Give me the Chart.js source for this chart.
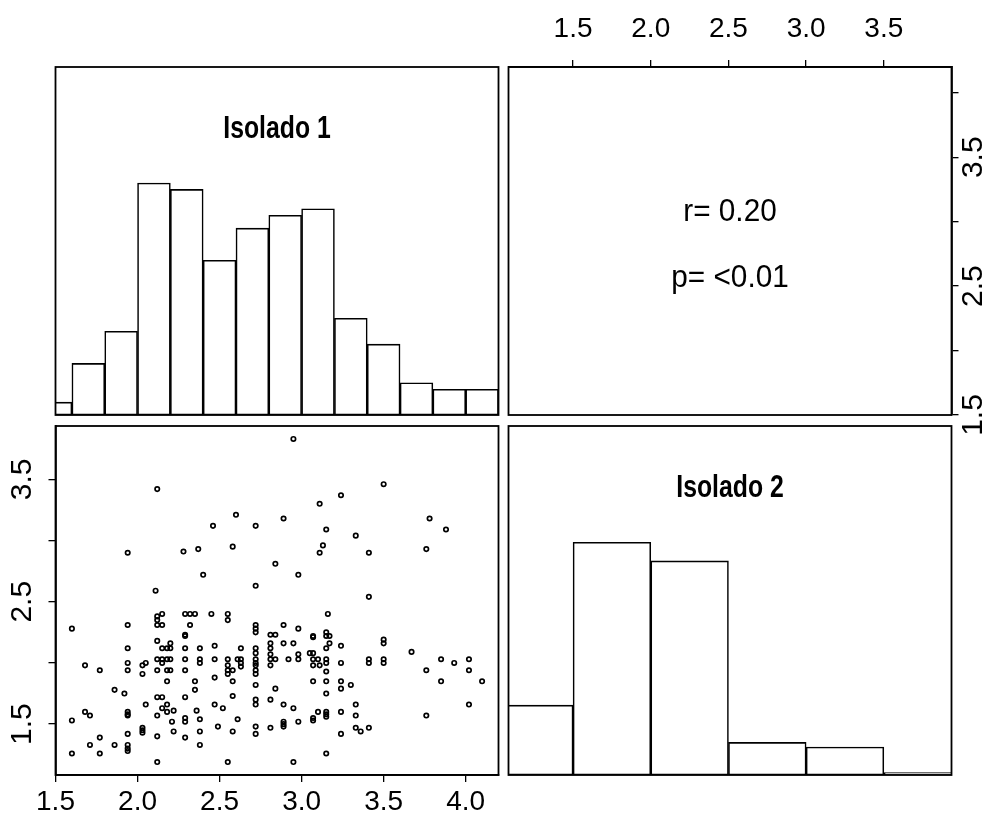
<!DOCTYPE html>
<html lang="pt">
<head>
<meta charset="utf-8">
<title>Isolado 1 x Isolado 2</title>
<script src="https://cdn.jsdelivr.net/npm/chart.js@4.4.1/dist/chart.umd.min.js"></script>
<style>
html, body { margin: 0; padding: 0; background: #fff; }
#quadro { position: relative; width: 986px; height: 814px; }
#quadro canvas { position: absolute; left: 0; top: 0; }
</style>
</head>
<body>
<div id="quadro">
<canvas id="hist1" width="986" height="814"></canvas>
<canvas id="texto" width="986" height="814"></canvas>
<canvas id="disp" width="986" height="814"></canvas>
<canvas id="hist2" width="986" height="814"></canvas>
</div>
<script>
const pontos = [
    [2.12,3.42],[1.94,2.90],[2.28,2.91],[2.37,2.93],[2.46,3.12],[2.60,3.21],[2.58,2.95],[2.72,3.12],[2.84,2.81],[2.40,2.72],[2.11,2.59],[2.72,2.63],
    [2.95,3.83],[3.50,3.46],[3.24,3.37],[3.11,3.30],[2.89,3.18],[3.78,3.18],[3.15,3.09],[3.88,3.09],[3.33,3.04],[3.13,2.96],[3.11,2.90],[3.41,2.90],
    [3.76,2.93],[2.98,2.72],[3.41,2.54],[3.16,2.40],
    [1.60,2.28],[1.60,1.53],[1.60,1.26],
    [1.68,1.98],[1.68,1.60],
    [1.71,1.57],[1.71,1.33],
    [1.77,1.94],[1.77,1.39],[1.77,1.26],
    [1.86,1.78],[1.86,1.33],
    [1.92,1.75],
    [1.94,2.31],[1.94,2.12],[1.94,2.00],[1.94,1.94],[1.94,1.60],[1.94,1.58],[1.94,1.57],[1.94,1.42],[1.94,1.33],[1.94,1.30],[1.94,1.28],
    [2.03,1.47],[2.03,1.45],[2.03,1.43],[2.03,1.98],[2.05,2.00],[2.03,1.91],[2.05,1.66],
    [2.12,2.38],[2.12,2.35],[2.12,2.31],[2.12,2.18],[2.12,2.03],[2.12,1.94],[2.12,1.72],[2.12,1.57],[2.12,1.40],[2.12,1.19],
    [2.15,2.40],[2.15,2.31],[2.15,2.12],[2.15,2.03],[2.15,2.00],[2.15,1.72],[2.15,1.63],
    [2.18,2.12],[2.18,2.03],[2.18,1.94],[2.18,1.85],[2.18,1.66],[2.18,1.60],
    [2.20,2.16],[2.20,2.12],[2.20,2.03],[2.20,1.94],[2.21,1.52],[2.22,1.44],[2.22,1.61],
    [2.29,2.40],[2.29,2.23],[2.29,2.22],[2.29,2.12],[2.29,2.03],[2.29,1.94],[2.29,1.72],[2.29,1.55],[2.29,1.52],[2.29,1.39],
    [2.32,2.40],[2.32,2.31],
    [2.35,2.40],[2.35,1.85],[2.35,1.78],[2.36,1.61],
    [2.38,2.12],[2.38,2.03],[2.38,2.00],[2.38,1.54],[2.38,1.44],[2.38,1.33],
    [2.45,2.40],
    [2.47,2.14],[2.47,2.03],[2.47,1.88],[2.47,1.66],
    [2.49,1.48],
    [2.52,1.63],
    [2.55,2.40],[2.55,2.35],[2.55,2.03],[2.55,1.98],[2.55,1.94],[2.55,1.91],[2.55,1.19],
    [2.58,1.94],[2.58,1.85],[2.58,1.73],[2.58,1.44],
    [2.61,2.03],[2.61,1.54],
    [2.63,2.12],[2.63,2.03],[2.63,2.00],[2.63,1.97],
    [2.72,2.31],[2.72,2.28],[2.72,2.25],[2.72,2.12],[2.72,2.08],[2.72,2.03],[2.72,2.00],[2.72,1.98],[2.72,1.94],[2.72,1.91],
    [2.72,1.82],[2.72,1.70],[2.72,1.66],[2.72,1.48],[2.72,1.42],
    [2.81,2.23],[2.81,2.16],[2.81,2.12],[2.81,2.07],[2.81,2.03],[2.81,1.98],[2.81,1.70],[2.81,1.47],
    [2.84,2.23],[2.84,2.03],[2.84,1.79],
    [2.89,2.31],[2.89,2.16],[2.89,1.66],[2.89,1.52],[2.89,1.50],[2.89,1.48],
    [2.92,2.03],
    [2.95,2.16],[2.95,1.63],[2.95,1.19],
    [2.98,2.28],[2.98,2.07],[2.98,2.03],[2.98,1.52],
    [3.05,2.08],
    [3.07,2.22],[3.07,2.21],[3.07,2.08],[3.07,2.03],[3.07,1.98],[3.07,1.85],[3.07,1.55],[3.07,1.53],
    [3.10,2.03],[3.10,1.60],
    [3.11,1.98],
    [3.15,2.25],[3.15,2.22],[3.15,2.12],[3.15,2.03],[3.15,2.00],[3.15,1.93],[3.15,1.85],[3.15,1.75],[3.15,1.60],[3.15,1.58],[3.15,1.56],[3.15,1.26],
    [3.17,2.22],[3.17,2.16],
    [3.24,2.14],[3.24,2.00],[3.24,1.85],[3.24,1.79],[3.24,1.60],[3.24,1.42],
    [3.30,1.82],
    [3.33,1.66],[3.33,1.57],[3.33,1.47],
    [3.36,1.44],
    [3.41,2.03],[3.41,2.00],[3.41,1.47],
    [3.50,2.19],[3.50,2.16],[3.50,2.03],[3.50,2.00],
    [3.67,2.09],
    [3.76,1.94],[3.76,1.57],
    [3.85,2.03],[3.85,1.85],
    [3.93,2.00],
    [4.02,2.03],[4.02,1.94],[4.02,1.66],
    [4.10,1.85]
];

// histogramas (limites das classes e contagens)
const quebras1 = [1.4, 1.6, 1.8, 2.0, 2.2, 2.4, 2.6, 2.8, 3.0, 3.2, 3.4, 3.6, 3.8, 4.0, 4.2];
const contagens1 = [2, 8, 13, 36, 35, 24, 29, 31, 32, 15, 11, 5, 4, 4];
const quebras2 = [1.0, 1.5, 2.0, 2.5, 3.0, 3.5, 4.0];
const contagens2 = [30, 100, 92, 14, 12, 1];

// marcas dos eixos
const ticksIso1 = [1.5, 2.0, 2.5, 3.0, 3.5, 4.0];
const ticksIso2 = [1.5, 2.0, 2.5, 3.0, 3.5];

const nomes = ['Isolado 1', 'Isolado 2'];
const estatisticas = ['r= 0.20', 'p= <0.01'];

// posição dos painéis na página
const W = 986, H = 814;
const colunas = [[55.5, 498.5], [508.5, 951.5]];
const linhas = [[67, 415], [426, 775]];

const FONTE = '"Liberation Sans", Arial, sans-serif';

Chart.defaults.font.family = FONTE;
Chart.defaults.color = '#000';
Chart.defaults.animation = false;
Chart.defaults.plugins.legend.display = false;
Chart.defaults.plugins.tooltip.enabled = false;

// faixa como no R: amplitude dos dados + 4% de cada lado
function faixa(valores) {
    const lo = Math.min(...valores), hi = Math.max(...valores);
    const d = (hi - lo) * 0.04;
    return { min: lo - d, max: hi + d };
}
const faixa1 = faixa(pontos.map(p => p[0]));
const faixa2 = faixa(pontos.map(p => p[1]));

function margens(col, lin) {
    return { left: colunas[col][0], right: W - colunas[col][1], top: linhas[lin][0], bottom: H - linhas[lin][1] };
}

function escalaOculta(f, ticks) {
    return {
        type: 'linear', display: false, offset: false, min: f.min, max: f.max,
        afterBuildTicks: s => { s.ticks = ticks.map(v => ({ value: v })); }
    };
}

function escalaVisivel(pos, f, ticks, tamanho, extra) {
    const vertical = pos === 'left' || pos === 'right';
    return {
        type: 'linear', position: pos, min: f.min, max: f.max,
        afterBuildTicks: s => { s.ticks = ticks.map(v => ({ value: v })); },
        afterFit: s => {
            if (vertical) s.width = tamanho; else s.height = tamanho;
            s.paddingLeft = s.paddingRight = s.paddingTop = s.paddingBottom = 0;
        },
        grid: { drawOnChartArea: false, drawTicks: true, tickLength: 7, color: '#000', lineWidth: 1.3 },
        border: { display: true, color: '#000', width: 1.8 },
        ticks: Object.assign({
            autoSkip: false, color: '#000', font: { size: 28 },
            callback: v => v.toFixed(1)
        }, extra)
    };
}

// rótulos girados (paralelos ao eixo), um sim outro não
function rotado(padding) {
    return {
        minRotation: 90, maxRotation: 90, crossAlign: 'center', padding: padding,
        font: { size: 30 },
        callback: (v, i) => i % 2 === 0 ? v.toFixed(1) : ''
    };
}

// moldura do painel
const caixa = {
    id: 'caixa',
    afterDatasetsDraw(chart) {
        const a = chart.chartArea, ctx = chart.ctx;
        ctx.save();
        ctx.strokeStyle = '#000';
        ctx.lineWidth = 1.8;
        ctx.strokeRect(a.left, a.top, a.right - a.left, a.bottom - a.top);
        ctx.restore();
    }
};

// textos centrados no painel; "largura" < 1 estreita a fonte
function textos(lista) {
    return {
        id: 'textos',
        afterDraw(chart) {
            const a = chart.chartArea, ctx = chart.ctx;
            lista.forEach(t => {
                ctx.save();
                ctx.fillStyle = '#000';
                ctx.textAlign = 'center';
                ctx.textBaseline = 'alphabetic';
                ctx.font = t.fonte;
                ctx.translate((a.left + a.right) / 2, a.top + t.dy);
                ctx.scale(t.largura || 1, 1);
                ctx.fillText(t.texto, 0, 0);
                ctx.restore();
            });
        }
    };
}

function histograma(id, quebras, contagens, f, col, lin, nome) {
    const dados = contagens.map((n, i) => ({ x: (quebras[i] + quebras[i + 1]) / 2, y: n }));
    return new Chart(document.getElementById(id), {
        type: 'bar',
        data: {
            datasets: [{
                data: dados,
                backgroundColor: '#fff',
                borderColor: '#000',
                borderWidth: 1.6,
                borderSkipped: false,
                barPercentage: 1,
                categoryPercentage: 1,
                clip: 0
            }]
        },
        options: {
            responsive: false,
            layout: { padding: margens(col, lin) },
            scales: {
                x: escalaOculta(f, quebras),
                y: { type: 'linear', display: false, min: 0, max: Math.max(...contagens) * 1.5 }
            }
        },
        plugins: [caixa, textos([{ texto: nome, fonte: 'bold 31px ' + FONTE, dy: 71, largura: 0.8 }])]
    });
}

// diagonal: histogramas
histograma('hist1', quebras1, contagens1, faixa1, 0, 0, nomes[0]);
histograma('hist2', quebras2, contagens2, faixa2, 1, 1, nomes[1]);

// painel superior direito: correlação
new Chart(document.getElementById('texto'), {
    type: 'scatter',
    data: { datasets: [] },
    options: {
        responsive: false,
        layout: { padding: { left: colunas[1][0], top: 0, right: 0, bottom: H - linhas[0][1] } },
        scales: {
            x: escalaVisivel('top', faixa2, ticksIso2, linhas[0][0], { padding: 14 }),
            y: escalaVisivel('right', faixa1, ticksIso1, W - colunas[1][1], rotado(-6))
        }
    },
    plugins: [caixa, textos([
        { texto: estatisticas[0], fonte: '32px ' + FONTE, dy: 154, largura: 0.93 },
        { texto: estatisticas[1], fonte: '32px ' + FONTE, dy: 220, largura: 0.93 }
    ])]
});

// painel inferior esquerdo: dispersão
new Chart(document.getElementById('disp'), {
    type: 'scatter',
    data: {
        datasets: [{
            data: pontos.map(p => ({ x: p[0], y: p[1] })),
            pointRadius: 2.2,
            pointBorderWidth: 1.7,
            borderColor: '#000',
            backgroundColor: 'rgba(0,0,0,0)'
        }]
    },
    options: {
        responsive: false,
        layout: { padding: { left: 0, top: linhas[1][0], right: W - colunas[0][1], bottom: 0 } },
        scales: {
            x: escalaVisivel('bottom', faixa1, ticksIso1, H - linhas[1][1], { padding: 3 }),
            y: escalaVisivel('left', faixa2, ticksIso2, colunas[0][0], rotado(5))
        }
    },
    plugins: [caixa]
});
</script>
</body>
</html>
